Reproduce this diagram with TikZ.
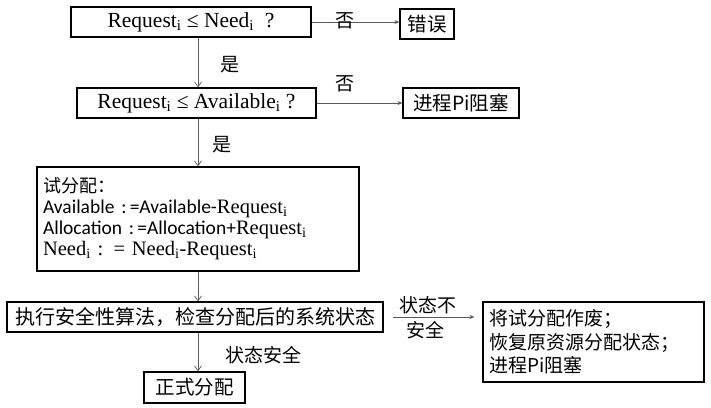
\documentclass[tikz,border=0pt]{standalone}
\usepackage{fontspec}
\setmainfont{Liberation Serif}
\newfontfamily\cjk{Noto Sans CJK SC}
\newfontfamily\calib{Carlito}
\usetikzlibrary{arrows.meta,calc}
\begin{document}
\begin{tikzpicture}[x=1pt,y=-1pt,
  box/.style={draw=black,line width=1.1pt,minimum height=30pt,inner sep=0pt},
  conn/.style={draw=black!65,line width=0.8pt},
  varr/.style={conn,-{Straight Barb[length=5pt,width=7pt,line width=0.7pt]}},
  harr/.style={conn,-{Stealth[length=5pt,width=4pt]}},
  lab/.style={font=\cjk\fontsize{19}{22}\selectfont,inner sep=0pt},
  ser/.style={font=\fontsize{21.5}{24}\selectfont},
  zh/.style={font=\cjk\fontsize{19.5}{23}\selectfont}]
\useasboundingbox (0,0) rectangle (711,407);
\coordinate (v) at (198,0);
\node[box,ser,minimum width=240pt] (b1) at (191,22) {Request\textsubscript{i} ≤ Need\textsubscript{i}~~?};
\node[box,zh,minimum width=54pt] (e1) at (427,24) {错误};
\node[box,ser,minimum width=239pt] (b2) at (196.5,103) {Request\textsubscript{i} ≤ Available\textsubscript{i}~?};
\node[box,zh,minimum width=116pt] (p1) at (461,103) {进程Pi阻塞};
\node[box,minimum width=322pt,minimum height=104pt,text width=310pt,align=left,
  font=\fontsize{20.5}{21}\selectfont] (b3) at (198,219)
  {{\cjk\fontsize{18}{21}\selectfont 试分配：}\\
   {\calib\fontsize{19.5}{21}\selectfont Available :\,=Available-}Request\textsubscript{i}\\
   {\calib\fontsize{19.5}{21}\selectfont Allocation :\,=Allocation+}Request\textsubscript{i}\\
   Need\textsubscript{i} : = Need\textsubscript{i}-Request\textsubscript{i}};
\node[box,zh,minimum width=376pt,font=\cjk\fontsize{20}{23}\selectfont] (b4) at (195,317) {执行安全性算法，检查分配后的系统状态};
\node[box,zh,minimum width=101pt,minimum height=31pt] (b5) at (194.5,387.5) {正式分配};
\node[box,minimum width=221pt,minimum height=80pt,text width=209pt,align=left,
  font=\cjk\fontsize{19}{23.5}\selectfont] (b6) at (593.5,342)
  {将试分配作废；\\恢复原资源分配状态；\\进程Pi阻塞};
\draw[varr] (b1.south -| v) -- (b2.north -| v);
\draw[varr] (b2.south -| v) -- (b3.north -| v);
\draw[varr] (b3.south -| v) -- (b4.north -| v);
\draw[varr] (b4.south -| v) -- (b5.north -| v);
\draw[harr] (b1.east) -- (b1.east -| e1.west);
\draw[harr] (b2.east) -- (b2.east -| p1.west);
\draw[harr,shorten <=9pt,shorten >=8pt] (b4.east) -- (b4.east -| b6.west);
\node[lab] (l1) at (345,21) {否};
\node[lab] (l2) at (345,84) {否};
\node[lab] (l3) at (230,65) {是};
\node[lab] (l4) at (222,145) {是};
\node[lab] (l5) at (428,305) {状态不};
\node[lab] (l6) at (425,330) {安全};
\node[lab] (l7) at (263,355) {状态安全};
\end{tikzpicture}
\end{document}
